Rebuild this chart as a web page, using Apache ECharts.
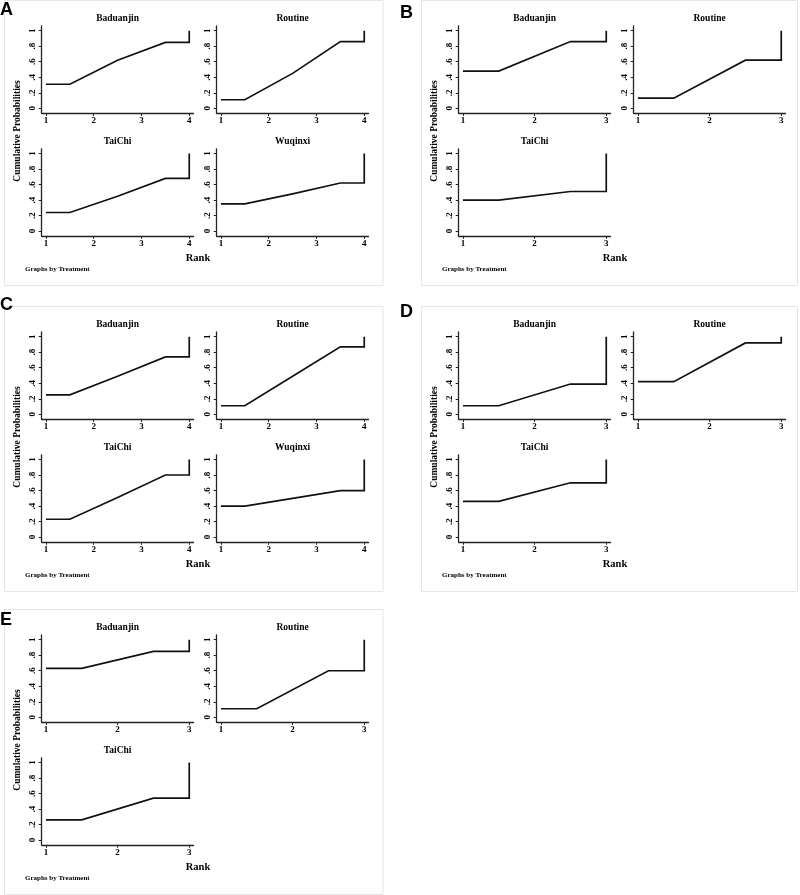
<!DOCTYPE html>
<html>
<head>
<meta charset="utf-8">
<script src="https://cdn.jsdelivr.net/npm/echarts@6/dist/echarts.min.js"></script>
<style>
html,body{margin:0;padding:0;background:#fff;}
#chart{width:800px;height:895px;}
</style>
</head>
<body>
<div id="chart"></div>
<script>
// ---- Data: cumulative ranking probabilities at rank 1..N (last is always 1) ----
const treatments4 = ['Baduanjin', 'Routine', 'TaiChi', 'Wuqinxi'];
const treatments3 = ['Baduanjin', 'Routine', 'TaiChi'];

const A_Baduanjin = [0.31, 0.62, 0.85, 1];
const A_Routine   = [0.11, 0.45, 0.86, 1];
const A_TaiChi    = [0.24, 0.45, 0.68, 1];
const A_Wuqinxi   = [0.35, 0.48, 0.62, 1];

const B_Baduanjin = [0.48, 0.86, 1];
const B_Routine   = [0.13, 0.62, 1];
const B_TaiChi    = [0.40, 0.51, 1];

const C_Baduanjin = [0.25, 0.49, 0.74, 1];
const C_Routine   = [0.11, 0.49, 0.87, 1];
const C_TaiChi    = [0.23, 0.51, 0.80, 1];
const C_Wuqinxi   = [0.40, 0.50, 0.60, 1];

const D_Baduanjin = [0.11, 0.39, 1];
const D_Routine   = [0.42, 0.92, 1];
const D_TaiChi    = [0.46, 0.70, 1];

const E_Baduanjin = [0.63, 0.85, 1];
const E_Routine   = [0.11, 0.60, 1];
const E_TaiChi    = [0.26, 0.54, 1];

const yTickValues = [0, 0.2, 0.4, 0.6, 0.8, 1];
const yTickLabels = ['0', '.2', '.4', '.6', '.8', '1'];
const xTitle = 'Rank';
const yTitle = 'Cumulative Probabilities';
const note = 'Graphs by Treatment';

const panels = [
  { letter: 'A', ox: 0,   oy: 0,   letterX: 0,   letterY: 1,   names: treatments4, data: [A_Baduanjin, A_Routine, A_TaiChi, A_Wuqinxi] },
  { letter: 'B', ox: 417, oy: 0,   letterX: 400, letterY: 4,   names: treatments3, data: [B_Baduanjin, B_Routine, B_TaiChi] },
  { letter: 'C', ox: 0,   oy: 306, letterX: 0,   letterY: 296, names: treatments4, data: [C_Baduanjin, C_Routine, C_TaiChi, C_Wuqinxi] },
  { letter: 'D', ox: 417, oy: 306, letterX: 400, letterY: 303, names: treatments3, data: [D_Baduanjin, D_Routine, D_TaiChi] },
  { letter: 'E', ox: 0,   oy: 609, letterX: 0,   letterY: 611, names: treatments3, data: [E_Baduanjin, E_Routine, E_TaiChi] }
];

// ---- Layout (pixels, relative to a panel origin) ----
const GRID_LEFT = 41.7, COL_STEP = 175, GRID_W = 151.8;
const GRID_TOP = 26, ROW_STEP = 122.8, GRID_H = 87;
const X_PAD_PX = 4.25;
const Y_PAD = 4.7 / 77.6;
const SERIF = '"Liberation Serif", "Times New Roman", serif';

function stepPoints(cum) {
  const n = cum.length;
  const pts = [[1, cum[0]], [1.5, cum[0]]];
  for (let k = 1; k <= n - 2; k++) pts.push([k + 1.5, cum[k]]);
  pts.push([n, cum[n - 2]]);
  pts.push([n, cum[n - 1]]);
  return pts;
}

const grids = [], xAxes = [], yAxes = [], series = [], graphics = [];
let gi = 0;
panels.forEach(p => {
  const nRank = p.data[0].length;
  const unit = (GRID_W - 2 * X_PAD_PX) / (nRank - 1);
  const xPad = X_PAD_PX / unit;
  const ranks = [];
  for (let r = 1; r <= nRank; r++) ranks.push(r);

  // panel border
  graphics.push({
    type: 'rect', silent: true,
    shape: { x: p.ox + 4.5, y: p.oy + 0.5, width: p.ox > 0 ? 376 : 378.5, height: 285 },
    style: { fill: 'none', stroke: '#e6e6e6', lineWidth: 1 }
  });
  graphics.push({
    type: 'text', x: p.letterX, y: p.letterY,
    style: { text: p.letter, font: 'bold 18px "Liberation Sans", Arial, sans-serif', fill: '#000' }
  });
  graphics.push({
    type: 'text', x: p.ox + 18, y: p.oy + 131, rotation: Math.PI / 2,
    style: { text: yTitle, font: 'bold 9.5px ' + SERIF, fill: '#000', align: 'center', verticalAlign: 'middle' }
  });
  graphics.push({
    type: 'text', x: p.ox + 198, y: p.oy + 258,
    style: { text: xTitle, font: 'bold 10.5px ' + SERIF, fill: '#000', align: 'center', verticalAlign: 'middle' }
  });
  graphics.push({
    type: 'text', x: p.ox + 25, y: p.oy + 269,
    style: { text: note, font: 'bold 7px ' + SERIF, fill: '#000', align: 'left', verticalAlign: 'middle' }
  });

  p.data.forEach((cum, i) => {
    const col = i % 2, row = Math.floor(i / 2);
    const left = p.ox + GRID_LEFT + col * COL_STEP;
    const top = p.oy + GRID_TOP + row * ROW_STEP;
    grids.push({ left: left, top: top, width: GRID_W, height: GRID_H, containLabel: false });
    graphics.push({
      type: 'text', x: left + GRID_W / 2, y: top - 7,
      style: { text: p.names[i], font: 'bold 9.5px ' + SERIF, fill: '#000', align: 'center', verticalAlign: 'middle' }
    });
    xAxes.push({
      type: 'value', gridIndex: gi, min: 1 - xPad, max: nRank + xPad,
      splitLine: { show: false },
      axisLine: { onZero: false, lineStyle: { color: '#222', width: 1.3 } },
      axisTick: { customValues: ranks, length: 3, lineStyle: { color: '#222', width: 1 } },
      axisLabel: { customValues: ranks, margin: 3, color: '#000', fontFamily: SERIF, fontWeight: 'bold', fontSize: 9 }
    });
    yAxes.push({
      type: 'value', gridIndex: gi, min: -Y_PAD, max: 1 + Y_PAD,
      splitLine: { show: false },
      axisLine: { onZero: false, lineStyle: { color: '#222', width: 1.3 } },
      axisTick: { customValues: yTickValues, length: 3, lineStyle: { color: '#222', width: 1 } },
      axisLabel: {
        customValues: yTickValues, rotate: 90, margin: 5, color: '#000',
        fontFamily: SERIF, fontWeight: 'bold', fontSize: 9,
        formatter: v => {
          const idx = yTickValues.findIndex(t => Math.abs(t - v) < 1e-6);
          return idx >= 0 ? yTickLabels[idx] : '';
        }
      }
    });
    series.push({
      type: 'line', xAxisIndex: gi, yAxisIndex: gi, name: p.letter + ' ' + p.names[i],
      data: stepPoints(cum), symbol: 'none', clip: false,
      lineStyle: { color: '#111', width: 1.7, join: 'miter' }
    });
    gi++;
  });
});

const chart = echarts.init(document.getElementById('chart'), null, { renderer: 'canvas' });
chart.setOption({
  animation: false,
  backgroundColor: '#fff',
  grid: grids,
  xAxis: xAxes,
  yAxis: yAxes,
  series: series,
  graphic: graphics
});
</script>
</body>
</html>
